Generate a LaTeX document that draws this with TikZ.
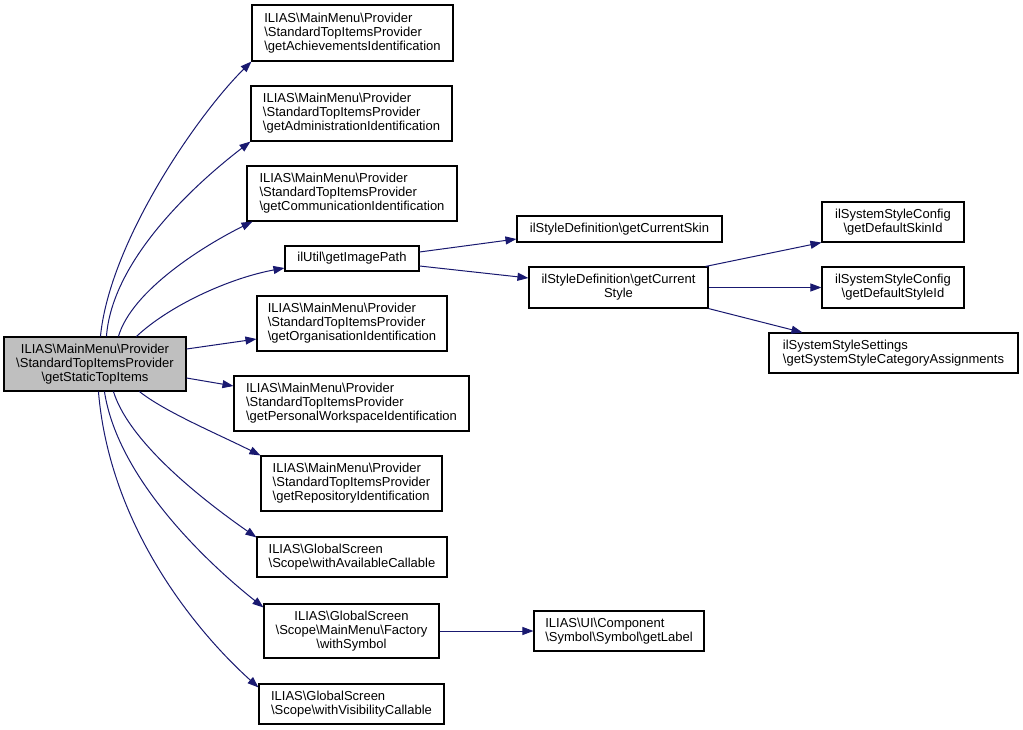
\documentclass[tikz,border=0pt]{standalone}
\usepackage{fontspec}
\setmainfont{Liberation Sans}
\usetikzlibrary{arrows.meta}
\definecolor{edgeblue}{HTML}{191970}
\definecolor{rootgray}{HTML}{BFBFBF}
\begin{document}
\begin{tikzpicture}[x=1pt,y=-1pt,
  box/.style={draw=black,line width=1.1pt,rectangle,inner sep=0pt,
    font=\fontsize{13}{14}\selectfont,align=left},
  cbox/.style={box,align=center},
  edge/.style={draw=edgeblue,line width=1pt,-{Triangle[length=11pt,width=8pt]}}]
\useasboundingbox (0,0) rectangle (1023,730);
\fill[white] (0,0) rectangle (1023,730);
% nodes
\node[cbox,fill=rootgray,minimum width=182pt,minimum height=54pt] (root) at (95,364)
  {ILIAS\textbackslash MainMenu\textbackslash Provider\\\textbackslash StandardTopItemsProvider\\\textbackslash getStaticTopItems};
\node[box,minimum width=201pt,minimum height=56pt] (ach) at (352.5,33)
  {ILIAS\textbackslash MainMenu\textbackslash Provider\\\textbackslash StandardTopItemsProvider\\\textbackslash getAchievementsIdentification};
\node[box,minimum width=201pt,minimum height=55pt] (adm) at (351.5,113.5)
  {ILIAS\textbackslash MainMenu\textbackslash Provider\\\textbackslash StandardTopItemsProvider\\\textbackslash getAdministrationIdentification};
\node[box,minimum width=210pt,minimum height=55pt] (com) at (352,193.5)
  {ILIAS\textbackslash MainMenu\textbackslash Provider\\\textbackslash StandardTopItemsProvider\\\textbackslash getCommunicationIdentification};
\node[cbox,minimum width=134pt,minimum height=25pt] (img) at (352,258.5)
  {ilUtil\textbackslash getImagePath};
\node[box,minimum width=190pt,minimum height=55pt] (org) at (352,323.5)
  {ILIAS\textbackslash MainMenu\textbackslash Provider\\\textbackslash StandardTopItemsProvider\\\textbackslash getOrganisationIdentification};
\node[box,minimum width=235pt,minimum height=55pt] (pw) at (351.5,403.5)
  {ILIAS\textbackslash MainMenu\textbackslash Provider\\\textbackslash StandardTopItemsProvider\\\textbackslash getPersonalWorkspaceIdentification};
\node[box,minimum width=181pt,minimum height=55pt] (rep) at (351.5,483.5)
  {ILIAS\textbackslash MainMenu\textbackslash Provider\\\textbackslash StandardTopItemsProvider\\\textbackslash getRepositoryIdentification};
\node[box,minimum width=190pt,minimum height=40pt] (avail) at (352,557)
  {ILIAS\textbackslash GlobalScreen\\\textbackslash Scope\textbackslash withAvailableCallable};
\node[cbox,minimum width=175pt,minimum height=54pt] (sym) at (351.5,631)
  {ILIAS\textbackslash GlobalScreen\\\textbackslash Scope\textbackslash MainMenu\textbackslash Factory\\\textbackslash withSymbol};
\node[box,minimum width=185pt,minimum height=40pt] (vis) at (351.5,704)
  {ILIAS\textbackslash GlobalScreen\\\textbackslash Scope\textbackslash withVisibilityCallable};
\node[cbox,minimum width=205pt,minimum height=26pt] (skin) at (619.5,229)
  {ilStyleDefinition\textbackslash getCurrentSkin};
\node[cbox,minimum width=179pt,minimum height=41pt] (style) at (618.5,287.5)
  {ilStyleDefinition\textbackslash getCurrent\\Style};
\node[cbox,minimum width=142pt,minimum height=40pt] (dskin) at (893,222)
  {ilSystemStyleConfig\\\textbackslash getDefaultSkinId};
\node[cbox,minimum width=142pt,minimum height=41pt] (dstyle) at (893,287.5)
  {ilSystemStyleConfig\\\textbackslash getDefaultStyleId};
\node[box,minimum width=249pt,minimum height=40pt] (sett) at (893.5,353)
  {ilSystemStyleSettings\\\textbackslash getSystemStyleCategoryAssignments};
\node[box,minimum width=170pt,minimum height=40pt] (label) at (619,631)
  {ILIAS\textbackslash UI\textbackslash Component\\\textbackslash Symbol\textbackslash Symbol\textbackslash getLabel};
% edges from root
\draw[edge] ([xshift=97pt]root.north west) .. controls (110,240) and (200,112) .. (ach.south west);
\draw[edge] ([xshift=103pt]root.north west) .. controls (112,262) and (190,188) .. (adm.south west);
\draw[edge] ([xshift=115pt]root.north west) .. controls (132,290) and (205,245) .. ([xshift=6pt]com.south west);
\draw[edge] ([xshift=133pt]root.north west) .. controls (170,305) and (230,278) .. ([yshift=-9.5pt]img.west);
\draw[edge] ([yshift=15pt]root.east) -- ([yshift=-15.5pt]org.west);
\draw[edge] ([yshift=-14pt]root.east) -- ([yshift=17.5pt]pw.west);
\draw[edge] ([xshift=136pt]root.south west) .. controls (165,412) and (220,435) .. (rep.north west);
\draw[edge] ([xshift=110pt]root.south west) .. controls (130,445) and (210,505) .. ([yshift=-1pt]avail.north west);
\draw[edge] ([xshift=101pt]root.south west) .. controls (118,480) and (210,565) .. ([yshift=-4pt]sym.north west);
\draw[edge] ([xshift=95pt]root.south west) .. controls (110,530) and (200,635) .. ([yshift=-4pt]vis.north west);
% second level
\draw[edge] ([yshift=6.5pt]img.east) -- ([yshift=-10pt]skin.west);
\draw[edge] ([yshift=-7.5pt]img.east) -- ([yshift=9.5pt]style.west);
\draw[edge] ([xshift=-3pt]style.north east) -- (dskin.south west);
\draw[edge] (style.east) -- (dstyle.west);
\draw[edge] (style.south east) -- ([xshift=34pt]sett.north west);
\draw[edge] (sym.east) -- (label.west);
\end{tikzpicture}
\end{document}
